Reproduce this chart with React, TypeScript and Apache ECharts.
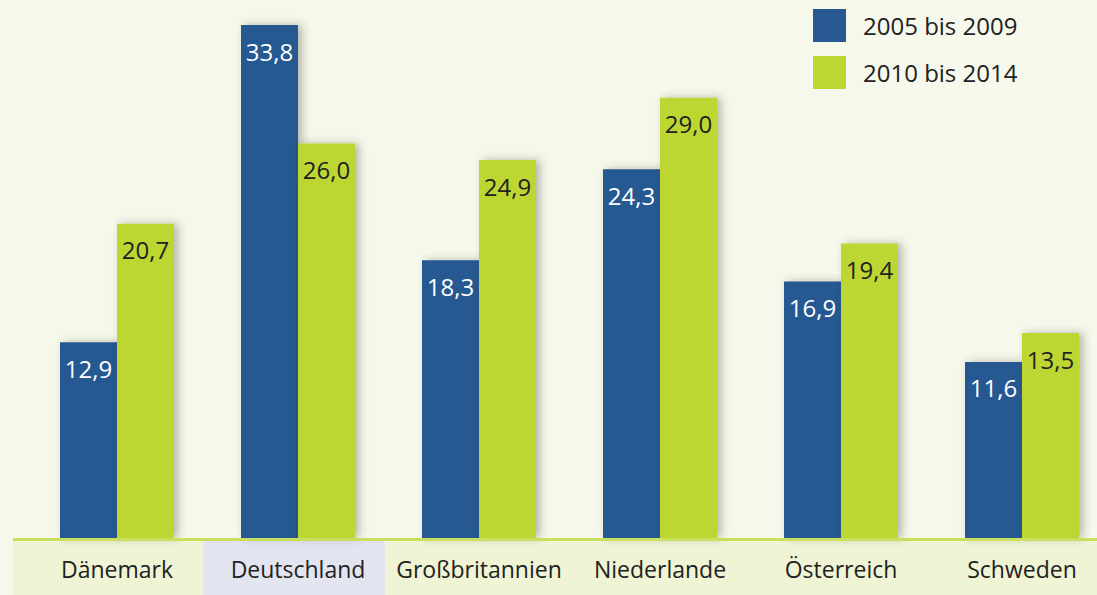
import React, { useEffect, useRef } from "react";
import * as echarts from "echarts";

const categories = ["Dänemark", "Deutschland", "Großbritannien", "Niederlande", "Österreich", "Schweden"];
const seriesNames = ["2005 bis 2009", "2010 bis 2014"];
const values2005_2009 = [12.9, 33.8, 18.3, 24.3, 16.9, 11.6];
const values2010_2014 = [20.7, 26.0, 24.9, 29.0, 19.4, 13.5];

const BLUE = "#285891";
const GREEN = "#bed630";
const FONT = "Open Sans";

const fmt = (v: number) => v.toFixed(1).replace(".", ",");

export default function App() {
  const ref = useRef<HTMLDivElement>(null);
  useEffect(() => {
    if (!ref.current) return;
    const chart = echarts.init(ref.current, undefined, { renderer: "svg" });
    const barShadow = {
      shadowColor: "rgba(60,60,40,0.35)",
      shadowBlur: 8,
      shadowOffsetX: 4,
      shadowOffsetY: 0,
    };
    chart.setOption({
      animation: false,
      backgroundColor: "#f6f8ec",
      textStyle: { fontFamily: FONT },
      grid: { left: 26.5, width: 1086, top: 6.8, bottom: 57, containLabel: false },
      legend: {
        orient: "vertical",
        left: 813,
        top: 9,
        padding: 0,
        itemWidth: 33,
        itemHeight: 33,
        itemGap: 14,
        icon: "rect",
        textStyle: { fontSize: 24, color: "#222", fontFamily: FONT, padding: [0, 0, 0, 12] },
        data: seriesNames,
      },
      xAxis: {
        type: "category",
        data: categories,
        axisLine: { show: false },
        axisTick: { show: false },
        axisLabel: { fontSize: 23, color: "#222", margin: 19, fontFamily: FONT, interval: 0 },
        z: 5,
      },
      yAxis: {
        type: "value",
        min: 0,
        max: 35,
        show: false,
        splitLine: { show: false },
      },
      graphic: [
        { type: "rect", z: -1, shape: { x: 13, y: 541, width: 1110, height: 54 }, style: { fill: "#eef4d4" } },
        { type: "rect", z: -1, shape: { x: 203, y: 541, width: 182, height: 54 }, style: { fill: "#e2e5f0" } },
        { type: "rect", z: 10, shape: { x: 13, y: 538, width: 1110, height: 3 }, style: { fill: "#c9df5e" } },
      ],
      series: [
        {
          name: seriesNames[0],
          type: "bar",
          data: values2005_2009,
          barWidth: 57,
          barGap: "0%",
          itemStyle: { color: BLUE, ...barShadow },
          label: {
            show: true,
            position: "insideTop",
            distance: 14,
            color: "#ffffff",
            fontSize: 24,
            fontFamily: FONT,
            formatter: (p: any) => fmt(p.value),
          },
        },
        {
          name: seriesNames[1],
          type: "bar",
          data: values2010_2014,
          barWidth: 57,
          barGap: "0%",
          itemStyle: { color: GREEN, ...barShadow },
          label: {
            show: true,
            position: "insideTop",
            distance: 14,
            color: "#222222",
            fontSize: 24,
            fontFamily: FONT,
            formatter: (p: any) => fmt(p.value),
          },
        },
      ],
    });
    return () => chart.dispose();
  }, []);
  return (
    <div style={{ position: "fixed", left: 0, top: 0, width: 1097, height: 595, overflow: "hidden" }}>
      <div ref={ref} style={{ width: 1125, height: 595 }} />
    </div>
  );
}
